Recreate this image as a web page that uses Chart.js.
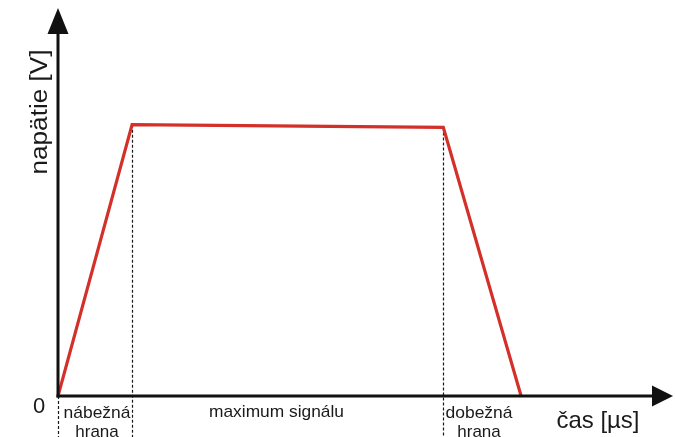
<!DOCTYPE html>
<html>
<head>
<meta charset="utf-8">
<script src="https://cdn.jsdelivr.net/npm/chart.js@4"></script>
<style>
html,body{margin:0;padding:0;background:#fff;}
#wrap{width:675px;height:437px;position:relative;}
</style>
</head>
<body>
<div id="wrap"><canvas id="c" width="675" height="437"></canvas></div>
<script>
// Data (time in arbitrary µs units, voltage in arbitrary V units)
const timeValues = [0, 1, 5.2, 6.25];
const voltageValues = [0, 10, 9.9, 0];
const phaseEdges = [0, 1, 5.2];            // where the dashed dividers sit
const phaseLabels = [["nábežná", "hrana"], ["maximum signálu"], ["dobežná", "hrana"]];
const xAxisTitle = "čas [µs]";
const yAxisTitle = "napätie [V]";
const originLabel = "0";
const xMax = 8.3;
const yMax = 14.3;

const FONT = '"Liberation Sans", Arial, sans-serif';

function fitText(ctx, text, x, y, size, targetW, align) {
  ctx.save();
  ctx.font = size + 'px ' + FONT;
  const w = ctx.measureText(text).width;
  const s = targetW ? targetW / w : 1;
  ctx.translate(x, y);
  ctx.scale(s, 1);
  ctx.textAlign = align || 'center';
  ctx.fillText(text, 0, 0);
  ctx.restore();
}

const overlay = {
  id: 'overlay',
  beforeDatasetsDraw(chart) {
    const ctx = chart.ctx;
    const xs = chart.scales.x, ys = chart.scales.y;
    const H = chart.height;
    ctx.save();
    ctx.strokeStyle = '#1a1a1a';
    ctx.lineWidth = 1.2;
    ctx.setLineDash([3, 2]);
    phaseEdges.forEach((e) => {
      const idx = timeValues.indexOf(e);
      const px = Math.round(xs.getPixelForValue(e)) + 0.5;
      const top = ys.getPixelForValue(voltageValues[idx]);
      ctx.beginPath();
      ctx.moveTo(px, top);
      ctx.lineTo(px, H);
      ctx.stroke();
    });
    ctx.restore();
  },
  afterDraw(chart) {
    const ctx = chart.ctx;
    const xs = chart.scales.x, ys = chart.scales.y;
    const x0 = xs.getPixelForValue(0), y0 = ys.getPixelForValue(0);
    const xEnd = xs.getPixelForValue(xMax), yEnd = ys.getPixelForValue(yMax);
    ctx.save();
    ctx.strokeStyle = '#111';
    ctx.fillStyle = '#111';
    ctx.lineWidth = 3;
    // y axis
    ctx.beginPath();
    ctx.moveTo(x0, y0 + 1.5);
    ctx.lineTo(x0, yEnd + 20);
    ctx.stroke();
    ctx.beginPath();
    ctx.moveTo(x0, yEnd);
    ctx.lineTo(x0 - 10.5, yEnd + 26);
    ctx.lineTo(x0 + 10.5, yEnd + 26);
    ctx.closePath();
    ctx.fill();
    // x axis
    ctx.beginPath();
    ctx.moveTo(x0 - 1.5, y0);
    ctx.lineTo(xEnd - 18, y0);
    ctx.stroke();
    ctx.beginPath();
    ctx.moveTo(xEnd, y0);
    ctx.lineTo(xEnd - 21, y0 - 10.5);
    ctx.lineTo(xEnd - 21, y0 + 10.5);
    ctx.closePath();
    ctx.fill();

    // texts
    ctx.fillStyle = '#1a1a1a';
    ctx.textBaseline = 'alphabetic';
    fitText(ctx, originLabel, x0 - 19, y0 + 17, 22, 0, 'center');
    fitText(ctx, xAxisTitle, 598, 428, 24, 83, 'center');
    ctx.save();
    ctx.translate(47, 112);
    ctx.rotate(-Math.PI / 2);
    fitText(ctx, yAxisTitle, 0, 0, 23, 125, 'center');
    ctx.restore();

    // phase labels
    const centers = [97, 276.5, 479];
    phaseLabels.forEach((lines, i) => {
      lines.forEach((t, j) => {
        const target = i === 1 ? 135 : (j === 0 ? 67 : 0);
        const base = i === 1 ? 417 : 418 + j * 19;
        fitText(ctx, t, centers[i], base, 17, target, 'center');
      });
    });
    ctx.restore();
  }
};

new Chart(document.getElementById('c'), {
  type: 'line',
  data: {
    datasets: [{
      data: timeValues.map((t, i) => ({ x: t, y: voltageValues[i] })),
      borderColor: '#d3302a',
      borderWidth: 3.2,
      pointRadius: 0,
      tension: 0,
      fill: false,
      borderJoinStyle: 'miter'
    }]
  },
  options: {
    responsive: false,
    animation: false,
    layout: { padding: { left: 58, right: 2, top: 8, bottom: 41 } },
    plugins: { legend: { display: false }, tooltip: { enabled: false } },
    scales: {
      x: { type: 'linear', min: 0, max: xMax, display: false },
      y: { type: 'linear', min: 0, max: yMax, display: false }
    }
  },
  plugins: [overlay]
});
</script>
</body>
</html>
